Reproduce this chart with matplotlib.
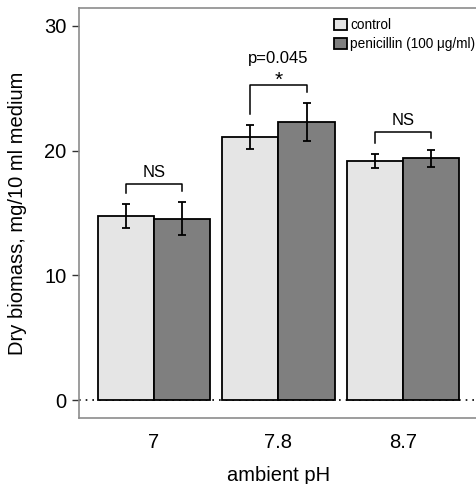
import numpy as np
import matplotlib.pyplot as plt

plt.rcParams['font.family'] = ['Liberation Sans', 'DejaVu Sans']

# data
ph_labels = ['7', '7.8', '8.7']
control = [14.75, 21.1, 19.15]
control_err = [0.95, 0.95, 0.55]
penicillin = [14.55, 22.3, 19.4]
penicillin_err = [1.35, 1.5, 0.68]
sig_text = ['NS', '*', 'NS']
p_text = [None, 'p=0.045', None]

fig = plt.figure(figsize=(4.76, 4.84), dpi=100)
ax = fig.add_axes([0.166, 0.1364, 0.838, 0.8471])

x = np.arange(1, len(ph_labels) + 1)
w = 0.45
ax.bar(x - w / 2, control, w, color='#e5e5e5', edgecolor='black', linewidth=1.3,
       label='control', zorder=2)
ax.bar(x + w / 2, penicillin, w, color='#7f7f7f', edgecolor='black', linewidth=1.3,
       label='penicillin (100 μg/ml)', zorder=2)
ax.errorbar(x - w / 2, control, yerr=control_err, fmt='none', ecolor='black',
            elinewidth=1.3, capsize=3, capthick=1.3, zorder=3)
ax.errorbar(x + w / 2, penicillin, yerr=penicillin_err, fmt='none', ecolor='black',
            elinewidth=1.3, capsize=3, capthick=1.3, zorder=3)

ax.axhline(0, color='black', linestyle=(0, (1, 3)), linewidth=1.2, zorder=1)

# significance brackets
for i in range(len(x)):
    top_c = control[i] + control_err[i]
    top_p = penicillin[i] + penicillin_err[i]
    y = max(top_c, top_p) + 1.45
    xl, xr = x[i] - w / 2, x[i] + w / 2
    ax.plot([xl, xl, xr, xr], [top_c + 0.9, y, y, top_p + 0.9], color='black',
            linewidth=1.1, zorder=3)
    if sig_text[i] == '*':
        ax.text(x[i], y - 0.35, '*', ha='center', va='bottom', fontsize=15)
    else:
        ax.text(x[i], y + 0.3, sig_text[i], ha='center', va='bottom', fontsize=12)
    if p_text[i]:
        ax.text(x[i], y + 1.55, p_text[i], ha='center', va='bottom', fontsize=12)

ax.set_xlim(0.4, 3.6)
ax.set_ylim(-1.44, 31.44)
ax.set_yticks([0, 10, 20, 30])
ax.set_xticks(x)
ax.set_xticklabels(ph_labels)
ax.tick_params(axis='y', length=5, width=1, color='#333333', labelsize=14.5, pad=4)
ax.tick_params(axis='x', length=0, labelsize=14.5, pad=11)
for s in ax.spines.values():
    s.set_color('#8c8c8c')
    s.set_linewidth(1.2)

ax.set_xlabel('ambient pH', fontsize=14.5, labelpad=10)
ax.set_ylabel('Dry biomass, mg/10 ml medium', fontsize=14.5, labelpad=12)

ax.legend(loc='upper left', bbox_to_anchor=(0.62, 0.995), frameon=False, fontsize=9.8,
          handlelength=0.9, handleheight=0.9, handletextpad=0.25, labelspacing=0.35,
          borderaxespad=0.2)

fig.savefig('out.png', dpi=100)
